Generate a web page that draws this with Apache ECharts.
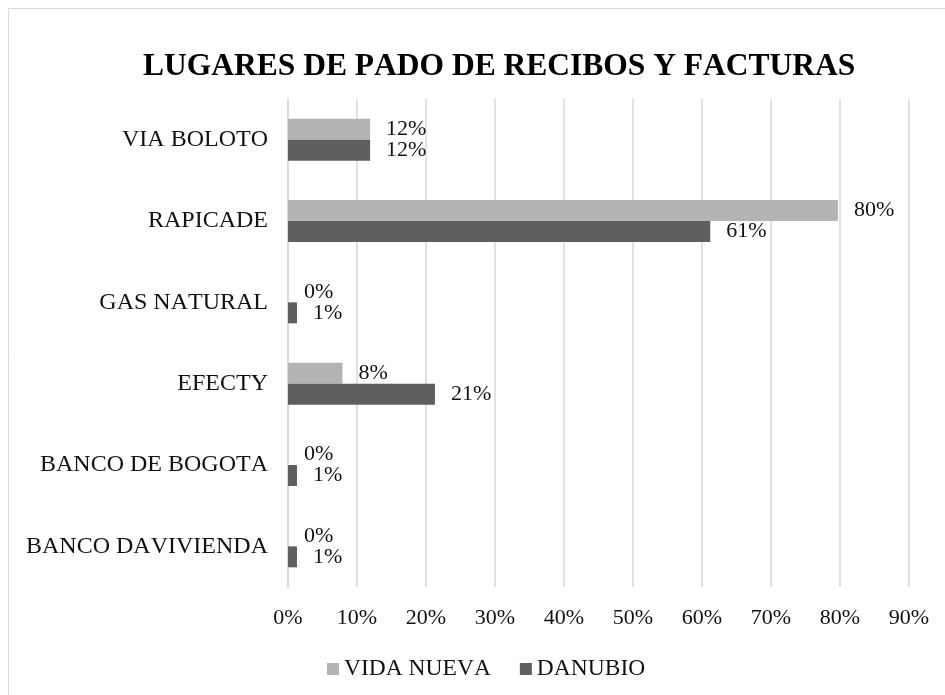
<!DOCTYPE html>
<html>
<head>
<meta charset="utf-8">
<script src="https://cdn.jsdelivr.net/npm/echarts@6/dist/echarts.min.js"></script>
<style>
  html, body { margin: 0; padding: 0; background: #fff; }
  #chart { width: 945px; height: 695px; }
</style>
</head>
<body>
<div id="chart"></div>
<script>
const categories = ['VIA BOLOTO', 'RAPICADE', 'GAS NATURAL', 'EFECTY', 'BANCO DE BOGOTA', 'BANCO DAVIVIENDA']
const vidaNueva = [11.9, 79.7, 0, 7.9, 0, 0]
const danubio = [11.9, 61.2, 1.3, 21.3, 1.3, 1.3]
const xTicks = [0, 10, 20, 30, 40, 50, 60, 70, 80, 90]

// the original (office chart) draws text without kerning
const fontDesc = Object.getOwnPropertyDescriptor(CanvasRenderingContext2D.prototype, 'font')
Object.defineProperty(CanvasRenderingContext2D.prototype, 'font', {
  configurable: true,
  get () { return fontDesc.get.call(this) },
  set (v) {
    fontDesc.set.call(this, v)
    if ('fontKerning' in this) this.fontKerning = 'none'
  }
})

const font = "'Liberation Serif', 'Times New Roman', serif"
const textColor = '#111'

const instance = echarts.init(document.getElementById('chart'), null, { renderer: 'canvas' })

const barLabel = {
  show: true,
  position: 'right',
  distance: 16,
  fontFamily: font,
  fontSize: 22,
  lineHeight: 20,
  color: textColor,
  formatter: (p) => Math.round(p.value) + '%'
}

instance.setOption({
  animation: false,
  color: ['#b4b4b4', '#5f5f5f'],
  graphic: [{
    type: 'rect',
    shape: { x: 8.5, y: 8.5, width: 1000, height: 1000 },
    style: { fill: 'none', stroke: '#d9d9d9', lineWidth: 1 }
  }],
  title: {
    text: 'LUGARES DE PADO DE RECIBOS Y FACTURAS',
    left: 138,
    top: 46,
    textStyle: { fontFamily: font, fontSize: 31.5, fontWeight: 'bold', color: '#000' }
  },
  legend: {
    data: ['VIDA NUEVA', 'DANUBIO'],
    bottom: 14,
    left: 327,
    padding: 0,
    itemWidth: 12,
    itemHeight: 12,
    itemGap: 29,
    icon: 'rect',
    textStyle: { fontFamily: font, fontSize: 23.5, color: textColor }
  },
  grid: { left: 288, right: 36, top: 99, bottom: 108, containLabel: false },
  xAxis: {
    type: 'value',
    min: 0,
    max: 90,
    interval: 10,
    axisLine: { show: false },
    axisTick: { show: false },
    splitLine: { lineStyle: { color: '#d9d9d9', width: 1.5 } },
    axisLabel: {
      fontFamily: font,
      fontSize: 22,
      color: textColor,
      margin: 20,
      formatter: (v) => xTicks.includes(v) ? v + '%' : ''
    }
  },
  yAxis: {
    type: 'category',
    inverse: true,
    data: categories,
    axisLine: { show: true, lineStyle: { color: '#d9d9d9', width: 1.5 } },
    axisTick: { show: false },
    axisLabel: { fontFamily: font, fontSize: 24, color: textColor, margin: 20 }
  },
  series: [
    { name: 'VIDA NUEVA', type: 'bar', data: vidaNueva, barWidth: 21, barGap: '0%', label: barLabel },
    { name: 'DANUBIO', type: 'bar', data: danubio, barWidth: 21, barGap: '0%', label: barLabel }
  ]
})
</script>
</body>
</html>
